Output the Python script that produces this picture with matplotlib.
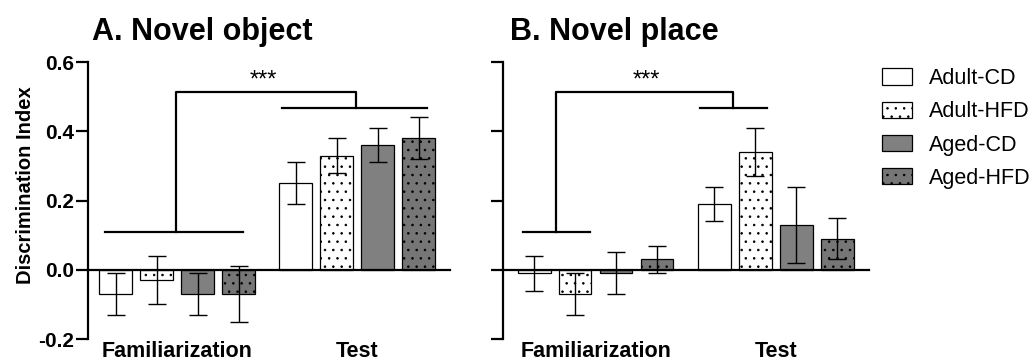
import matplotlib.pyplot as plt
from matplotlib.patches import Patch

plt.rcParams['font.family'] = ['Liberation Sans', 'DejaVu Sans']
plt.rcParams['axes.unicode_minus'] = False
plt.rcParams['hatch.linewidth'] = 0.6

groups = ["Adult-CD", "Adult-HFD", "Aged-CD", "Aged-HFD"]
phases = ["Familiarization", "Test"]
yticks = [-0.2, 0.0, 0.2, 0.4, 0.6]
ytick_labels = ["-0.2", "0.0", "0.2", "0.4", "0.6"]

# A. Novel object
obj_fam = [-0.07, -0.03, -0.07, -0.07]
obj_fam_err = [0.06, 0.07, 0.06, 0.08]
obj_test = [0.25, 0.33, 0.36, 0.38]
obj_test_err = [0.06, 0.05, 0.05, 0.06]

# B. Novel place
place_fam = [-0.01, -0.07, -0.01, 0.03]
place_fam_err = [0.05, 0.06, 0.06, 0.04]
place_test = [0.19, 0.34, 0.13, 0.09]
place_test_err = [0.05, 0.07, 0.11, 0.06]

fills = ["white", "white", "#808080", "#767676"]
hatches = [None, "..", None, ".."]

fam_x = [0, 1, 2, 3]
test_x = [4.4, 5.4, 6.4, 7.4]


def draw_panel(ax, fam, fam_err, test, test_err, xlim, bracket, star_x, show_labels):
    for i in range(4):
        for x, v, e in ((fam_x[i], fam[i], fam_err[i]), (test_x[i], test[i], test_err[i])):
            ax.bar(x, v, width=0.8, color=fills[i], hatch=hatches[i],
                   edgecolor="black", linewidth=0.9, zorder=2)
            ax.errorbar(x, v, yerr=e, color="black", lw=1.0, capsize=6.5,
                        capthick=1.0, zorder=3)

    # significance bracket
    f0, f1, vx, tx, t0, t1 = bracket
    lw = 1.6
    ax.plot([f0, f1], [0.11, 0.11], color="black", lw=lw, zorder=4)
    ax.plot([vx, vx, tx, tx], [0.11, 0.512, 0.512, 0.466], color="black", lw=lw, zorder=4)
    ax.plot([t0, t1], [0.466, 0.466], color="black", lw=lw, zorder=4)
    ax.text(star_x, 0.548, "***", ha="center", va="center", fontsize=17)

    ax.set_xlim(*xlim)
    ax.set_ylim(-0.2, 0.6)
    ax.spines["top"].set_visible(False)
    ax.spines["right"].set_visible(False)
    ax.spines["bottom"].set_position(("data", 0))
    for s in ("left", "bottom"):
        ax.spines[s].set_linewidth(1.6)
    ax.set_xticks([])
    ax.set_yticks(yticks)
    if show_labels:
        ax.set_yticklabels(ytick_labels, fontsize=15, fontweight="bold")
    else:
        ax.set_yticklabels([])
    ax.tick_params(axis="y", length=9, width=1.6, pad=1)

    for x, name in zip([sum(fam_x) / 4, sum(test_x) / 4], phases):
        ax.text(x, -0.205, name, ha="center", va="top", fontsize=15.5,
                fontweight="bold", clip_on=False)


fig = plt.figure(figsize=(10.34, 3.6), dpi=100)
ax_a = fig.add_axes([0.0851, 0.0583, 0.3501, 0.7694])
ax_b = fig.add_axes([0.4865, 0.0583, 0.354, 0.7694])

draw_panel(ax_a, obj_fam, obj_fam_err, obj_test, obj_test_err,
           (-0.68, 8.17), (-0.27, 3.1, 1.47, 5.87, 4.06, 7.6), 3.6, True)
draw_panel(ax_b, place_fam, place_fam_err, place_test, place_test_err,
           (-0.76, 8.18), (-0.27, 1.37, 0.54, 4.86, 4.05, 5.69), 2.73, False)

ax_a.set_ylabel("Discrimination Index", fontsize=14.5, fontweight="bold")
ax_a.yaxis.set_label_coords(-0.146, 0.556)

fig.text(92 / 1034, 0.952, "A. Novel object", ha="left", va="top",
         fontsize=22, fontweight="bold")
fig.text(510 / 1034, 0.952, "B. Novel place", ha="left", va="top",
         fontsize=22, fontweight="bold")

handles = [Patch(facecolor=fills[i], hatch=hatches[i], edgecolor="black", linewidth=0.9)
           for i in range(4)]
fig.legend(handles, groups, loc="upper left", bbox_to_anchor=(882 / 1034, 1 - 68 / 360),
           frameon=False, borderpad=0, borderaxespad=0, fontsize=15.5,
           handlelength=1.39, handleheight=0.79, handletextpad=0.79, labelspacing=0.57)

fig.savefig("out.png", dpi=100)
